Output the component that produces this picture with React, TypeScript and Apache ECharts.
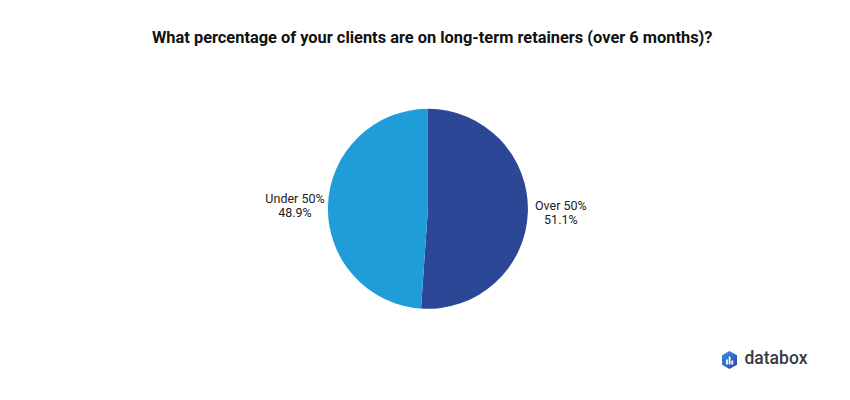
import React, { useEffect, useRef } from "react";
import * as echarts from "echarts";

const titleText = "What percentage of your clients are on long-term retainers (over 6 months)?";
const categories = ["Over 50%", "Under 50%"];
const values = [51.1, 48.9];
const colors = ["#2c4795", "#1e9dd8"];

export default function App() {
  const ref = useRef<HTMLDivElement>(null);
  useEffect(() => {
    if (!ref.current) return;
    const chart = echarts.init(ref.current, undefined, { renderer: "svg" });
    chart.setOption({
      animation: false,
      backgroundColor: "#ffffff",
      title: {
        text: titleText,
        left: 139,
        top: 16,
        textStyle: { fontFamily: "Roboto", fontWeight: "bold", fontSize: 16.4, color: "#111111" },
      },
      graphic: [
        {
          type: "group",
          left: 714,
          top: 341,
          children: [
            {
              type: "polygon",
              shape: { points: [[8, 0], [15.5, 4.3], [15.5, 13.7], [8, 18], [0.5, 13.7], [0.5, 4.3]] },
              style: {
                fill: new echarts.graphic.LinearGradient(0, 0, 1, 1, [
                  { offset: 0, color: "#3f8ee6" },
                  { offset: 1, color: "#2a46a8" },
                ]),
              },
            },
            { type: "rect", shape: { x: 4.5, y: 8.5, width: 1.8, height: 5 }, style: { fill: "#fff" } },
            { type: "rect", shape: { x: 7.2, y: 5.5, width: 1.8, height: 8 }, style: { fill: "#fff" } },
            { type: "rect", shape: { x: 9.9, y: 9.5, width: 1.8, height: 4 }, style: { fill: "#fff" } },
            {
              type: "text",
              x: 23,
              y: -2,
              style: {
                text: "databox",
                fontFamily: "Roboto",
                fontWeight: 500,
                fontSize: 17.5,
                fill: "#363a45",
              },
            },
          ],
        },
      ],
      series: [
        {
          type: "pie",
          center: ["50.35%", "52.3%"],
          radius: [0, 100],
          startAngle: 90,
          clockwise: true,
          data: categories.map((c, i) => ({ name: c, value: values[i], itemStyle: { color: colors[i] } })),
          label: {
            show: true,
            position: "outside",
            formatter: (p: any) => `{a|${p.name}}\n{a|${p.value.toFixed(1)}%}`,
            rich: {
              a: { width: 56, align: "center", fontFamily: "Roboto", fontSize: 12.5, color: "#222222", lineHeight: 14.5 },
            },
          },
          labelLine: { show: false, length: 0, length2: 0 },
        },
      ],
    });
    return () => chart.dispose();
  }, []);
  return <div ref={ref} style={{ width: 834, height: 384 }} />;
}
